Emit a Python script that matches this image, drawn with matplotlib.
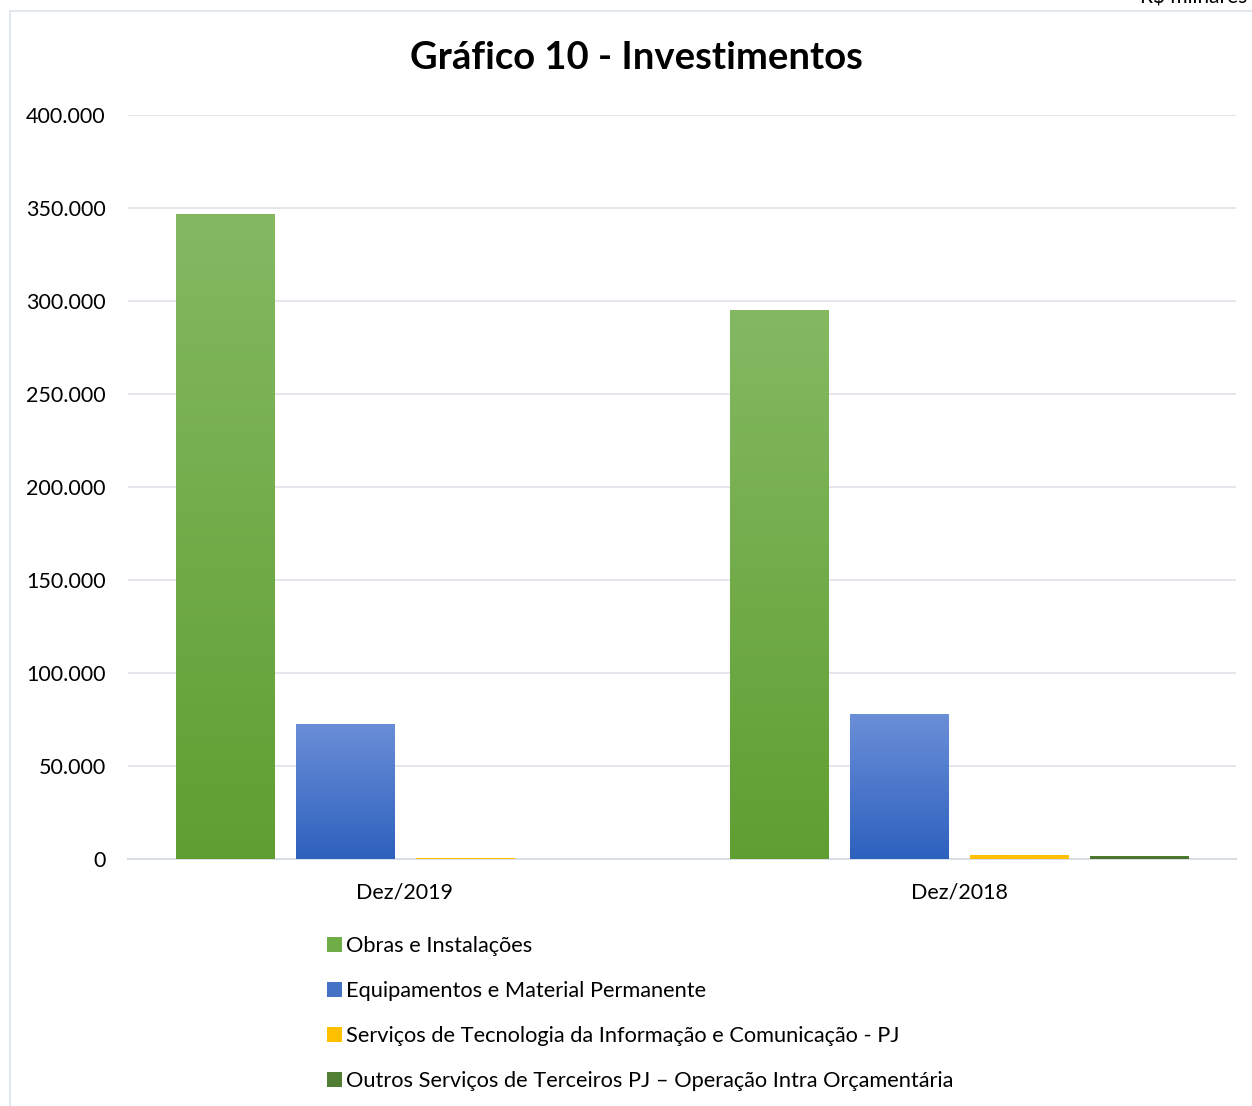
import matplotlib.pyplot as plt
import numpy as np
from matplotlib.patches import Rectangle
from matplotlib.colors import LinearSegmentedColormap

plt.rcParams['font.family'] = ['Lato', 'DejaVu Sans']

# dados (R$ milhares)
categorias = ['Dez/2019', 'Dez/2018']
series = ['Obras e Instalações',
          'Equipamentos e Material Permanente',
          'Serviços de Tecnologia da Informação e Comunicação - PJ',
          'Outros Serviços de Terceiros PJ – Operação Intra Orçamentária']
obras = [347000, 295200]
equipamentos = [72700, 78000]
servicos_ti = [800, 2200]
outros = [0, 1600]
valores = [obras, equipamentos, servicos_ti, outros]

cores = ['#70ad47', '#4472c4', '#ffc000', '#507e32']
gradientes = [('#84b962', '#5f9f31'), ('#6b8fd8', '#2d61be'),
              ('#ffc000', '#ffc000'), ('#507e32', '#466f2a')]

W, H = 1252, 1106
fig = plt.figure(figsize=(W / 100, H / 100), dpi=100)

# moldura do gráfico
fig.patches.append(Rectangle((10 / W, -0.1), 1.2, 1 - 11 / H + 0.1, transform=fig.transFigure,
                             fill=False, edgecolor='#dde2ea', linewidth=1.2))
fig.text(1140 / W, 1 - 4 / H, 'R$ milhares', fontsize=15, ha='left', va='baseline')

ax = fig.add_axes([128 / W, 1 - 859 / H, (1236 - 128) / W, (859 - 115) / H])

x = np.arange(len(categorias))
largura = 0.177
passo = 0.2166
for i, (s, v) in enumerate(zip(series, valores)):
    pos = x + (i - 1.5) * passo
    barras = ax.bar(pos, v, width=largura, color=cores[i], label=s, zorder=2)
    cmap = LinearSegmentedColormap.from_list('g%d' % i, [gradientes[i][1], gradientes[i][0]])
    for b in barras:
        if b.get_height() <= 0:
            continue
        bx, by = b.get_x(), b.get_y()
        bw, bh = b.get_width(), b.get_height()
        img = ax.imshow(np.linspace(0, 1, 256).reshape(-1, 1), cmap=cmap, aspect='auto',
                        origin='lower', extent=[bx, bx + bw, by, by + bh], zorder=3)
        img.set_clip_path(b)

ax.set_xlim(-0.5, 1.5)
ax.set_ylim(0, 400000)
ax.set_yticks(np.arange(0, 400001, 50000))
ax.set_yticklabels([f'{int(t):,}'.replace(',', '.') for t in np.arange(0, 400001, 50000)])
ax.set_xticks(x)
ax.set_xticklabels(categorias)
ax.tick_params(axis='both', length=0, labelsize=15.5, colors='#000000')
ax.tick_params(axis='y', pad=16)
ax.tick_params(axis='x', pad=17)
ax.grid(axis='y', color='#dfe2e8', linewidth=1.2, zorder=0)
for sp in ['top', 'right', 'left']:
    ax.spines[sp].set_visible(False)
ax.spines['bottom'].set_color('#d9dde4')
ax.spines['bottom'].set_linewidth(1.5)

fig.text(636 / W, 1 - 58 / H, 'Gráfico 10 - Investimentos', fontsize=27.5, fontweight='bold',
         ha='center', va='center')

leg = ax.legend(loc='upper left', bbox_to_anchor=(318 / W, 1 - 927 / H),
                bbox_transform=fig.transFigure, frameon=False, fontsize=15.7,
                handlelength=0.68, handleheight=0.68, handletextpad=0.22,
                labelspacing=1.15, borderaxespad=0)

fig.savefig('out.png', dpi=100)
